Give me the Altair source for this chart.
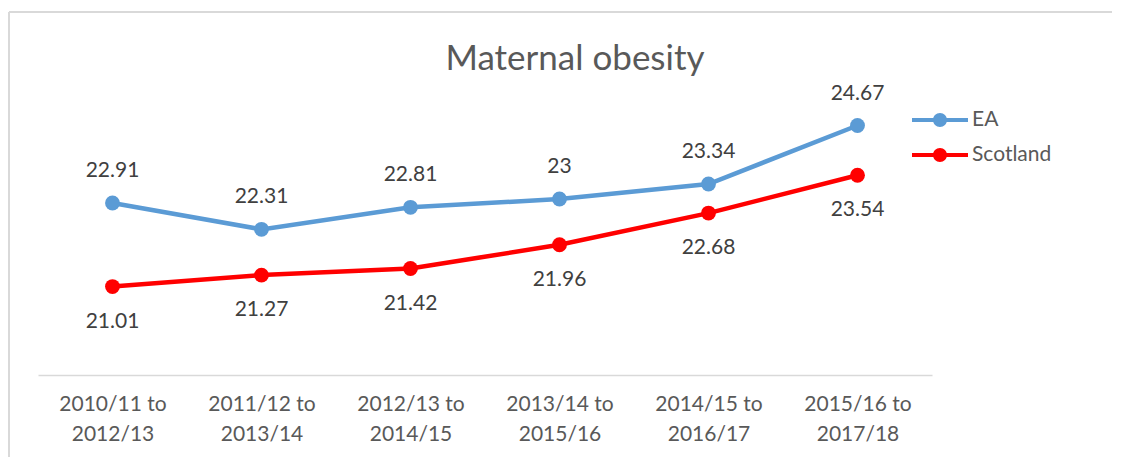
import altair as alt
import pandas as pd

periods = ["2010/11 to 2012/13", "2011/12 to 2013/14", "2012/13 to 2014/15",
           "2013/14 to 2015/16", "2014/15 to 2016/17", "2015/16 to 2017/18"]
ea = [22.91, 22.31, 22.81, 23.0, 23.34, 24.67]
scotland = [21.01, 21.27, 21.42, 21.96, 22.68, 23.54]
series = ["EA", "Scotland"]
colors = ["#5B9BD5", "#FF0000"]

rows = []
for p, v in zip(periods, ea):
    rows.append({"period": p, "series": "EA", "value": v, "label": f"{v:g}"})
for p, v in zip(periods, scotland):
    rows.append({"period": p, "series": "Scotland", "value": v, "label": f"{v:g}"})
df = pd.DataFrame(rows)

FONT = "Lato"

x_enc = alt.X("period:N", sort=periods, title=None,
              axis=alt.Axis(labelAngle=0, ticks=False, domainColor="#d9d9d9", domainWidth=1.3,
                            labelColor="#595959", labelFontSize=21, labelFont=FONT,
                            labelPadding=18, labelLineHeight=30,
                            labelExpr="[slice(datum.label, 0, 10), slice(datum.label, 11)]"),
              scale=alt.Scale(paddingInner=0, paddingOuter=0))
y_enc = alt.Y("value:Q", axis=None, scale=alt.Scale(domain=[19, 25], zero=False))
color_scale = alt.Scale(domain=series, range=colors)

legend_path = ("M-2,-0.15 L-0.4,-0.15 L-0.4,0.15 L-2,0.15 Z "
               "M0.4,-0.15 L2,-0.15 L2,0.15 L0.4,0.15 Z "
               "M0.5,0 A0.5,0.5 0 1,1 -0.5,0 A0.5,0.5 0 1,1 0.5,0 Z")
legend = alt.Legend(title=None, orient="none", legendX=888, legendY=-5,
                    symbolType=legend_path, symbolSize=784,
                    symbolStrokeWidth=0, symbolOpacity=1,
                    labelFont=FONT, labelFontSize=21, labelColor="#595959",
                    labelOffset=18, rowPadding=11, padding=0)
color_enc = alt.Color("series:N", scale=color_scale, legend=legend)

base = alt.Chart(df)

lines = base.mark_line(strokeWidth=4.5).encode(x=x_enc, y=y_enc, color=color_enc)
points = base.mark_point(filled=True, size=220, opacity=1).encode(x=x_enc, y=y_enc, color=color_enc)

ea_text = base.transform_filter(alt.datum.series == "EA").mark_text(
    font=FONT, fontSize=21, color="#404040", dy=-32, baseline="middle").encode(
    x=x_enc, y=y_enc, text="label:N")
sc_text = base.transform_filter(alt.datum.series == "Scotland").mark_text(
    font=FONT, fontSize=21, color="#404040", dy=35, baseline="middle").encode(
    x=x_enc, y=y_enc, text="label:N")

border_top = alt.Chart(df).mark_rule(color="#d9d9d9", strokeWidth=1.5).encode(
    x=alt.value(-29), x2=alt.value(1100), y=alt.value(-99))
border_left = alt.Chart(df).mark_rule(color="#d9d9d9", strokeWidth=1.5).encode(
    x=alt.value(-29), y=alt.value(-99), y2=alt.value(400))

chart = alt.layer(border_top, border_left, lines, points, ea_text, sc_text).properties(
    width=894, height=264,
    title=alt.TitleParams("Maternal obesity", font=FONT, fontSize=35, fontWeight="normal",
                          color="#595959", anchor="middle", dx=90, offset=-94,
                          baseline="alphabetic"),
    padding={"left": 30, "top": 103, "right": 180, "bottom": 82},
    autosize=alt.AutoSizeParams(type="none"),
).configure_view(stroke=None)

chart.save("out.html", embed_options={"renderer": "svg", "actions": False})
